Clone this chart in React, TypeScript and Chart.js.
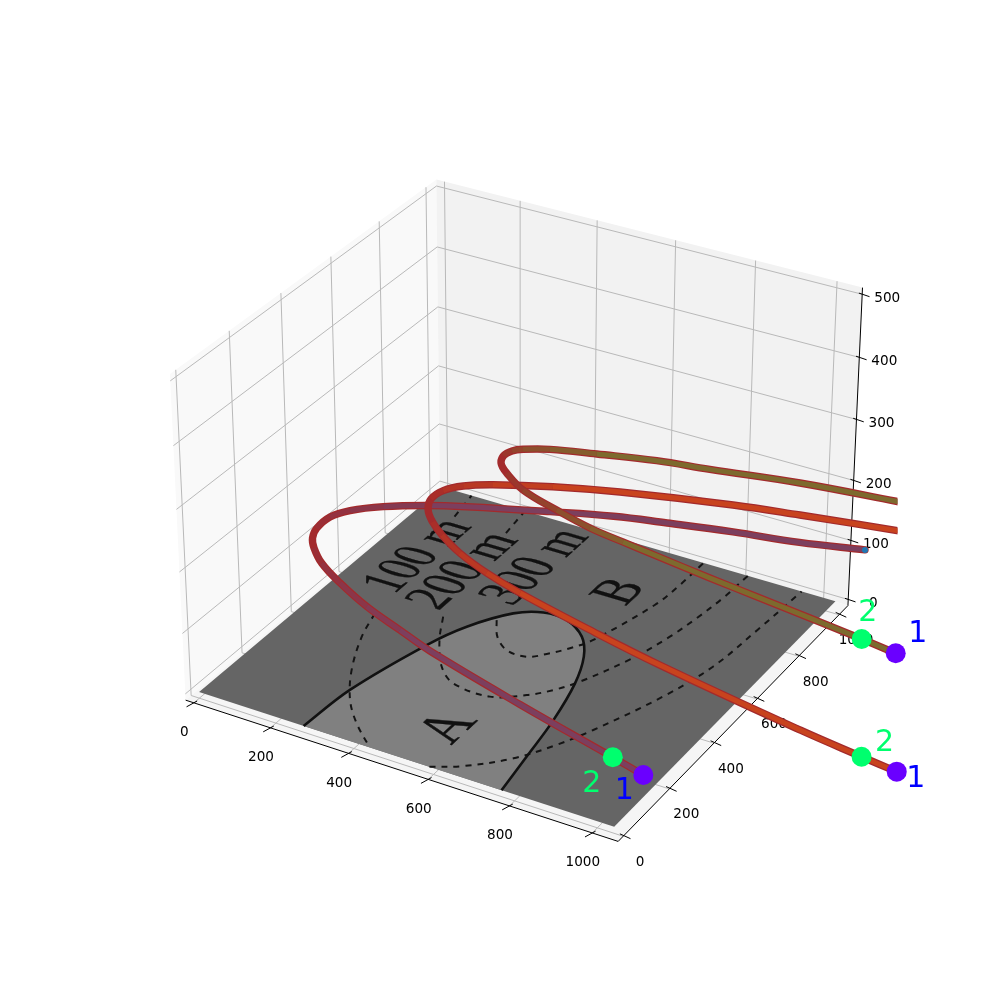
import React, { useEffect, useRef } from "react";
import Chart from "chart.js/auto";

// ---------- chart values (data coordinates of the 3D axes) ----------
const xTicks = [0, 200, 400, 600, 800, 1000];
const yTicks = [0, 200, 400, 600, 800, 1000];
const zTicks = [0, 100, 200, 300, 400, 500];
const xLimits = [-21.67, 1061.67];
const yLimits = [-21.33, 1045.33];
const zLimits = [-10.42, 510.42];

const planeX = [0, 1040, 1040, 0, 0];
const planeY = [0, 0, 1024, 1024, 0];

const boundaryX = [272, 282, 332, 370, 432, 489, 551, 615, 660, 697, 729, 750, 768];
const boundaryY = [0, 170, 409, 519, 619, 656, 654, 610, 540, 436, 286, 135, 0];

const c1LeftX = [161, 188, 242, 304, 366, 440];
const c1LeftY = [465, 367, 240, 136, 65, 0];
const c1RightX = [590, 651, 729, 783, 823, 890, 928, 943, 954];
const c1RightY = [0, 38, 116, 206, 295, 484, 645, 830, 1024];
const c1UpperX = [95, 79];
const c1UpperY = [920, 1024];
const c2X = [302, 346, 408, 465, 562, 629, 669, 703, 757, 786, 801, 812, 816];
const c2Y = [529, 441, 349, 304, 298, 343, 389, 447, 589, 707, 806, 911, 1024];
const c2UpperX = [238, 225];
const c2UpperY = [915, 1024];
const c3X = [414, 451, 497, 550, 583, 616, 644, 692, 700, 701];
const c3Y = [576, 517, 479, 477, 509, 555, 611, 808, 912, 1024];

const curve1X = [1000, 911, 635, 351.5, 247, 129, 22, -61, -114, -141.4, -157, -158, -133, -75, 11, 96, 278, 418, 542, 695, 851, 998];
const curve1Y = [197.5, 224, 303.4, 391.6, 433, 481, 537, 589, 638, 674, 716, 775, 823, 877, 932, 974, 1051, 1106, 1141, 1181, 1215, 1260];
const curve2X = [1461, 1371, 1210, 823, 607, 401, 290, 191, 113, 63, 25, 4, 8.6, 39, 97, 225.5, 376, 637, 795, 1031];
const curve2Y = [474, 488, 515, 593, 646, 702, 740, 785, 834, 874, 916, 963, 1011, 1053, 1093, 1155, 1212, 1290.5, 1327, 1377];
const curve3X = [1254.6, 1162.6, 876, 745, 593, 494, 396.5, 287.6, 171.5, 97, 62, 48, 54, 73, 129.4, 238.5, 379.6, 510, 727, 973];
const curve3Y = [894, 910, 953.6, 973, 998, 1014.5, 1032, 1065, 1107, 1157, 1190, 1226, 1255, 1275, 1307, 1343, 1386, 1412, 1460.5, 1497.5];

const planeTexts = ["100 m", "200 m", "300 m", "A", "B"];
const planeTextX = [155, 280, 415, 588, 637];
const planeTextY = [552, 541, 640, 92, 769];
const planeTextEndY = [900, 902, 996, 205, 869];

// ---------- matplotlib's 3D view (elev 30, azim -60) ----------
const s = (1.8294640721620434 * (25 / 24)) / Math.sqrt(41);
const box = [4 * s, 4 * s, 3 * s];
const U = [Math.sqrt(3) / 2, 0.5, 0];
const V = [-0.25, Math.sqrt(3) / 4, Math.sqrt(3) / 2];
const W = [Math.sqrt(3) / 4, -0.75, 0.5];
const PX = 770 / 0.185;
const CX = 127.5 + 0.095 * PX;
const CY = 890 - 0.095 * PX;

function projectN(nx: number, ny: number, nz: number) {
  const d = [(nx - 0.5) * box[0], (ny - 0.5) * box[1], (nz - 0.5) * box[2]];
  const dot = (a: number[]) => a[0] * d[0] + a[1] * d[1] + a[2] * d[2];
  const D = 10 - dot(W);
  return { x: CX + (PX * dot(U)) / D, y: CY - (PX * dot(V)) / D };
}
const nX = (x: number) => (x - xLimits[0]) / (xLimits[1] - xLimits[0]);
const nY = (y: number) => (y - yLimits[0]) / (yLimits[1] - yLimits[0]);
const nZ = (z: number) => (z - zLimits[0]) / (zLimits[1] - zLimits[0]);
const project = (x: number, y: number, z = 0) => projectN(nX(x), nY(y), nZ(z));
const path = (xs: number[], ys: number[]) => xs.map((x, i) => project(x, ys[i]));

const clipBox = { left: 0, right: -102.5, top: 0, bottom: 0 };

function line(label: string, data: any[], color: string, width: number, extra: any = {}) {
  return {
    label,
    data,
    showLine: true,
    borderColor: color,
    borderWidth: width,
    pointRadius: 0,
    fill: false,
    tension: 0,
    ...extra,
  };
}
function poly(label: string, data: any[], color: string) {
  return {
    label,
    data,
    showLine: true,
    borderWidth: 0,
    borderColor: color,
    backgroundColor: color,
    pointRadius: 0,
    tension: 0,
    fill: "shape",
  };
}
function curveLayers(name: string, xs: number[], ys: number[], rgb: string) {
  const data = path(xs, ys);
  let apex = 0;
  data.forEach((p, i) => {
    if (p.x < data[apex].x) apex = i;
  });
  const common = { tension: 0.4, borderJoinStyle: "round", clip: clipBox };
  return [
    line(name + "-outer", data, "#a32a2c", 7.4, { ...common, borderCapStyle: "round" }),
    line(name + "-inner", data, `rgb(${rgb})`, 5, {
      ...common,
      borderCapStyle: "butt",
      segment: {
        borderColor: (ctx: any) => {
          const i = Math.min(Math.abs(ctx.p0DataIndex - apex), Math.abs(ctx.p1DataIndex - apex));
          return `rgba(${rgb},${Math.min(1, i / 5)})`;
        },
      },
    }),
  ];
}

function buildDatasets() {
  const out: any[] = [];
  const edge = (a: number[], b: number[], color: string, w: number, label = "edge") =>
    line(label, [projectN(a[0], a[1], a[2]), projectN(b[0], b[1], b[2])], color, w);

  out.push(poly("pane-x", [[0, 0, 0], [0, 1, 0], [0, 1, 1], [0, 0, 1], [0, 0, 0]].map((p) => projectN(p[0], p[1], p[2])), "#f9f9f9"));
  out.push(poly("pane-y", [[0, 1, 0], [1, 1, 0], [1, 1, 1], [0, 1, 1], [0, 1, 0]].map((p) => projectN(p[0], p[1], p[2])), "#f2f2f2"));
  out.push(poly("pane-z", [[0, 0, 0], [1, 0, 0], [1, 1, 0], [0, 1, 0], [0, 0, 0]].map((p) => projectN(p[0], p[1], p[2])), "#f5f5f5"));

  const grid = "#b9b9b9";
  xTicks.forEach((t) => {
    const n = nX(t);
    out.push(edge([n, 0, 0], [n, 1, 0], grid, 1));
    out.push(edge([n, 1, 0], [n, 1, 1], grid, 1));
  });
  yTicks.forEach((t) => {
    const n = nY(t);
    out.push(edge([0, n, 0], [1, n, 0], grid, 1));
    out.push(edge([0, n, 0], [0, n, 1], grid, 1));
  });
  zTicks.forEach((t) => {
    const n = nZ(t);
    out.push(edge([0, 0, n], [0, 1, n], grid, 1));
    out.push(edge([0, 1, n], [1, 1, n], grid, 1));
  });

  out.push(edge([0, 0, 0], [1, 0, 0], "#000", 1));
  out.push(edge([1, 0, 0], [1, 1, 0], "#000", 1));
  out.push(edge([1, 1, 0], [1, 1, 1], "#000", 1));

  const tick = (p: { x: number; y: number }, a: number[], b: number[]) =>
    line("tick", [{ x: p.x + a[0], y: p.y + a[1] }, { x: p.x + b[0], y: p.y + b[1] }], "#000", 1);
  xTicks.forEach((t) => out.push(tick(projectN(nX(t), 0, 0), [-7.3, 4], [3.3, -1.8])));
  yTicks.forEach((t) => out.push(tick(projectN(1, nY(t), 0), [7.3, 2.4], [-3.3, -2.4])));
  zTicks.forEach((t) => out.push(tick(projectN(1, 1, nZ(t)), [7.3, 2.4], [-3.3, -1.2])));
  out[out.length - 1].label = "axes-end";

  out.push(poly("plane-dark", path(planeX, planeY), "#656565"));
  const lightX = [...boundaryX, boundaryX[0]];
  const lightY = [...boundaryY, boundaryY[0]];
  out.push(poly("plane-light", path(lightX, lightY), "#808080"));

  const dash = { borderDash: [6, 6], tension: 0.35 };
  const dashColor = "#141414";
  out.push(line("contour", path(c1LeftX, c1LeftY), dashColor, 2, dash));
  out.push(line("contour", path(c1RightX, c1RightY), dashColor, 2, dash));
  out.push(line("contour", path(c1UpperX, c1UpperY), dashColor, 2, dash));
  out.push(line("contour", path(c2X, c2Y), dashColor, 2, dash));
  out.push(line("contour", path(c2UpperX, c2UpperY), dashColor, 2, dash));
  out.push(line("contour", path(c3X, c3Y), dashColor, 2, dash));
  out.push(line("boundary", path(boundaryX, boundaryY), "#111", 2.6, { tension: 0.35 }));

  out.push(...curveLayers("curve1", curve1X, curve1Y, "124,63,94"));
  out.push(...curveLayers("curve2", curve2X, curve2Y, "200,67,30"));
  out.push(...curveLayers("curve3", curve3X, curve3Y, "125,106,46"));

  const pts = (color: string, label: string, data: any[], r: number) => ({
    label,
    data,
    showLine: false,
    pointRadius: r,
    pointBorderWidth: 0,
    pointBackgroundColor: color,
  });
  out.push(pts("#1f77b4", "end", [project(curve1X[curve1X.length - 1], curve1Y[curve1Y.length - 1])], 3));
  out.push(pts("#6a00ff", "start1", [project(curve1X[0], curve1Y[0]), project(curve2X[0], curve2Y[0]), project(curve3X[0], curve3Y[0])], 10));
  out.push(pts("#00ff6e", "start2", [project(curve1X[1], curve1Y[1]), project(curve2X[1], curve2Y[1]), project(curve3X[1], curve3Y[1])], 10));
  return out;
}

const markPlugin = {
  id: "marks",
  afterDatasetDraw(chart: any, args: any) {
    const label = chart.data.datasets[args.index].label;
    const ctx = chart.ctx;
    const sx = chart.scales.x;
    const sy = chart.scales.y;
    const toPx = (p: { x: number; y: number }) => ({ x: sx.getPixelForValue(p.x), y: sy.getPixelForValue(p.y) });
    if (label === "axes-end") {
      ctx.save();
      ctx.font = '13.6px "DejaVu Sans"';
      ctx.fillStyle = "#000";
      ctx.textAlign = "center";
      ctx.textBaseline = "middle";
      xTicks.forEach((t) => {
        const p = toPx(projectN(nX(t), 0, 0));
        ctx.fillText(String(t), p.x - 9.5, p.y + 30);
      });
      yTicks.forEach((t) => {
        const p = toPx(projectN(1, nY(t), 0));
        ctx.fillText(String(t), p.x + 17, p.y + 26);
      });
      zTicks.forEach((t) => {
        const p = toPx(projectN(1, 1, nZ(t)));
        ctx.fillText(String(t), p.x + 25, p.y + 4);
      });
      ctx.restore();
    }
    if (label === "plane-light") {
      planeTexts.forEach((text, i) => {
        const x = planeTextX[i];
        const y0 = planeTextY[i];
        const y1 = planeTextEndY[i];
        const midY = (y0 + y1) / 2;
        const size = i < 3 ? 148 : 150;
        const c = toPx(project(x, midY));
        const ey = toPx(project(x, midY + 20));
        const ex = toPx(project(x + 20, midY));
        const a = (ey.x - c.x) / 20;
        const b = (ey.y - c.y) / 20;
        const d = (ex.x - c.x) / 20;
        const e = (ex.y - c.y) / 20;
        ctx.save();
        ctx.transform(a, b, d, e, c.x, c.y);
        ctx.font = `${size}px "Liberation Serif"`;
        ctx.fillStyle = "#111";
        ctx.strokeStyle = "#111";
        ctx.lineWidth = 1;
        ctx.textBaseline = "alphabetic";
        const w = ctx.measureText(text).width;
        const k = (y1 - y0) / w;
        ctx.scale(k, 1);
        ctx.fillText(text, -w / 2, 0);
        ctx.strokeText(text, -w / 2, 0);
        ctx.restore();
      });
    }
  },
  afterDatasetsDraw(chart: any) {
    const ctx = chart.ctx;
    const sx = chart.scales.x;
    const sy = chart.scales.y;
    ctx.save();
    ctx.font = '30px "DejaVu Sans"';
    ctx.textAlign = "center";
    ctx.textBaseline = "middle";
    const starts = [
      [curve1X, curve1Y, -19, 16, -21, 27],
      [curve2X, curve2Y, 19, 8, 23, -14],
      [curve3X, curve3Y, 22, -19, 6, -26],
    ] as any[];
    starts.forEach(([xs, ys, ax, ay, bx, by]) => {
      const p1 = project(xs[0], ys[0]);
      const p2 = project(xs[1], ys[1]);
      ctx.fillStyle = "#0000ff";
      ctx.fillText("1", sx.getPixelForValue(p1.x) + ax, sy.getPixelForValue(p1.y) + ay);
      ctx.fillStyle = "#00ff6e";
      ctx.fillText("2", sx.getPixelForValue(p2.x) + bx, sy.getPixelForValue(p2.y) + by);
    });
    ctx.restore();
  },
};

export default function App() {
  const ref = useRef<HTMLCanvasElement>(null);
  useEffect(() => {
    document.body.style.margin = "0";
    const chart = new Chart(ref.current as HTMLCanvasElement, {
      type: "scatter",
      data: { datasets: buildDatasets().map((d, i) => ({ ...d, order: 1000 - i })) },
      options: {
        animation: false,
        responsive: false,
        devicePixelRatio: 1,
        layout: { padding: 0, autoPadding: false },
        elements: { line: { capBezierPoints: false } },
        plugins: { legend: { display: false }, tooltip: { enabled: false }, title: { display: false } },
        events: [],
        scales: {
          x: { type: "linear", min: 0, max: 1000, display: false },
          y: { type: "linear", min: 0, max: 1000, reverse: true, display: false },
        },
      },
      plugins: [markPlugin],
    } as any);
    return () => chart.destroy();
  }, []);
  return (
    <div style={{ width: 1000, height: 1000 }}>
      <canvas ref={ref} width={1000} height={1000} style={{ display: "block" }} />
    </div>
  );
}
